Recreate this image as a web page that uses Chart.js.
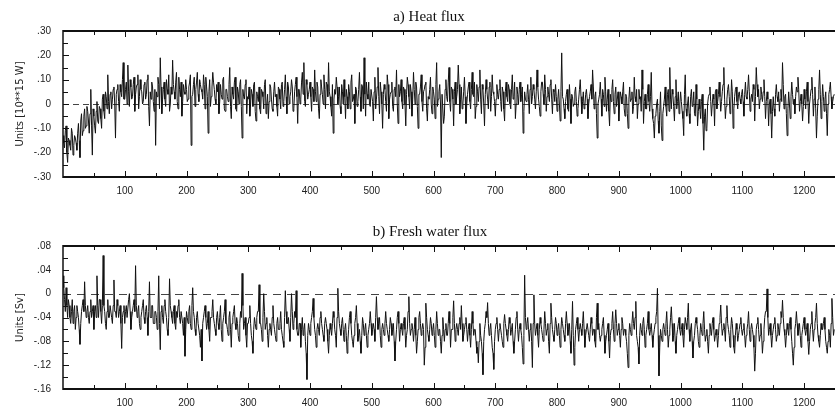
<!DOCTYPE html>
<html><head><meta charset="utf-8">
<script src="https://cdn.jsdelivr.net/npm/chart.js@4.4.1/dist/chart.umd.min.js"></script>
<style>
html,body{margin:0;padding:0;background:#fff;}
#wrap{position:relative;width:835px;height:410px;overflow:hidden;background:#fff;}
canvas{position:absolute;left:0;}
#c1{top:0;}
#c2{top:205px;}
</style></head><body>
<div id="wrap"><canvas id="c1" width="835" height="205"></canvas><canvas id="c2" width="835" height="205"></canvas></div>
<script>
// ---- data ----
// "A" arrays: model years 0, 2.5, 5, ... ; "B" arrays: years 1.25, 3.75, 6.25, ...
const YEAR_STEP = 2.5;
const xTickValues = [100,200,300,400,500,600,700,800,900,1000,1100,1200];
const xTickLabels = ['100','200','300','400','500','600','700','800','900','1000','1100','1200'];
const xMinorTicks = [50,150,250,350,450,550,650,750,850,950,1050,1150,1250];

const heatTicks = [.30,.20,.10,0,-.10,-.20,-.30];
const heatTickLabels = ['.30','.20','.10','0','-.10','-.20','-.30'];
const heatMinorTicks = [.25,.15,.05,-.05,-.15,-.25];

const freshTicks = [.08,.04,0,-.04,-.08,-.12,-.16];
const freshTickLabels = ['.08','.04','0','-.04','-.08','-.12','-.16'];
const freshMinorTicks = [.06,.02,-.02,-.06,-.10,-.14];

const heatFluxA = [
 -.13,-.18,-.09,-.24,-.15,-.19,-.12,-.17,-.14,-.19,-.08,-.22,-.04,-.11,-.02,-.09,-.03,-.12,.06,-.21,
 -.05,-.12,.01,-.08,-.02,-.10,.04,-.06,.03,.12,-.04,.05,.02,.07,-.14,.06,.01,.08,.03,.17,
 .02,.09,.16,-.01,.07,.03,.11,.04,.08,-.02,.10,.05,.01,.09,.04,.12,-.09,.02,.07,-.03,
 -.17,.03,.08,.19,-.04,.06,.02,.10,.04,-.03,.07,.18,.05,.09,.01,.11,.03,-.05,.08,.04,
 .06,.02,.09,-.17,.04,.11,.06,.13,.01,.08,.05,.12,-.02,.07,-.12,.10,.03,.13,.06,.00,
 .05,-.04,.08,.02,.11,-.03,.06,.01,.15,-.06,.04,.09,-.02,.07,.00,.10,-.14,.03,.08,-.04,
 .02,-.05,.06,-.01,.09,-.07,.03,.07,-.04,.05,-.02,.10,.00,-.06,.08,.02,-.03,.09,.04,-.05,
 .06,-.02,.09,.01,.12,-.04,.07,.03,.10,-.03,.05,.11,-.08,.06,.02,.13,.17,-.01,.08,.04,
 .09,-.03,.06,.14,.01,.07,-.06,.10,.04,.12,-.02,.08,.17,.03,-.05,-.12,.06,.11,.00,.07,
 -.04,.05,.10,-.06,.03,.08,-.02,.12,.02,-.08,.06,.01,.13,-.03,.07,.19,-.05,.04,.09,-.01,
 .06,-.07,.11,.02,.15,-.04,.05,-.10,.08,.01,.12,-.06,.04,.09,-.03,.07,.14,-.08,.03,.10,
 -.02,.06,-.09,.11,.03,.08,-.05,.13,.00,.07,-.10,.04,.12,-.03,.06,.09,-.07,.02,.11,-.04,
 .05,-.06,.17,.02,.08,-.22,.04,-.05,.10,.01,.15,-.03,.06,-.09,.09,.03,.16,-.04,.07,.00,
 .11,-.08,.04,.09,-.02,.13,.03,-.06,.08,.01,.14,-.04,.06,-.09,.10,.02,.07,-.03,.12,.04,
 -.05,.08,.02,.10,-.03,.05,-.07,.09,.01,.06,-.02,.12,.03,-.06,.07,.00,.09,.04,-.12,.05,
 .01,.08,-.04,.11,.03,.06,-.02,.14,.02,-.05,.09,.04,.12,-.03,.07,.01,.10,-.04,.05,.08,
 -.03,.06,-.07,.21,.02,-.06,.04,-.02,.08,-.08,.03,.00,.07,-.05,.02,.10,-.04,.05,-.01,.06,
 -.06,.03,.08,.14,-.02,.05,-.14,.02,.09,-.05,.04,.11,-.03,.06,-.09,.01,.10,-.04,.07,.02,
 -.07,.05,.00,.09,-.05,.03,-.10,.07,.02,-.04,.11,.01,-.06,.06,.03,.14,-.08,.04,-.02,.08,
 -.03,.13,-.06,-.14,-.04,.02,-.12,.05,-.15,-.01,.07,-.05,.06,.15,-.02,.04,-.07,.10,.01,-.04,
 .05,-.03,-.13,.12,-.05,.03,-.08,.06,.00,-.04,.08,-.09,.02,-.06,.04,-.19,-.02,-.10,.03,.07,
 -.05,.04,-.09,.06,.01,.09,-.03,.05,.15,-.06,.02,.08,-.04,.10,-.10,.03,.07,-.02,.05,.00,
 .06,-.05,.09,.02,.12,-.03,.04,.08,-.07,.15,.03,-.02,.07,.01,.10,-.06,.05,-.09,.02,-.14,
 .03,-.05,.08,.01,-.03,.06,.17,-.02,.04,-.13,.05,-.06,.09,.00,-.04,.07,.11,-.03,.04,-.07,
 .06,-.02,.09,-.08,.03,.11,-.05,.07,-.14,.02,.14,-.06,.08,-.03,.05,-.13,.04,.09,-.02,.03
];
const heatFluxB = [
 -.16,-.11,-.20,-.14,-.17,-.10,-.21,-.13,-.16,-.12,-.15,-.07,-.13,-.05,-.10,-.01,-.07,-.04,-.09,-.02,
 -.09,-.03,-.07,-.01,-.06,.02,-.03,.05,-.02,.01,.04,-.02,.06,.00,.04,.08,-.03,.05,.10,.02,
 .06,.00,.05,.10,.02,.08,-.03,.07,.12,.03,.06,.00,.08,.02,.10,-.01,.05,.09,.01,.06,
 .05,.11,-.02,.07,.02,.09,-.01,.06,.12,.00,.04,.08,.02,.13,-.02,.06,.09,.01,.05,.10,
 .01,.07,.12,.03,.08,-.01,.09,.04,.10,.06,.02,.08,.11,.03,.05,-.01,.07,.09,.02,.08,
 .09,.01,.04,.10,-.02,.06,.03,.08,-.01,.07,.02,.11,-.03,.05,.08,-.01,.06,.02,.10,.03,
 .07,.00,.04,.08,-.03,.05,.01,-.02,.06,.03,.08,-.04,.04,.01,.07,-.02,.05,.03,-.01,.07,
 .02,.08,-.01,.06,.03,.09,.00,.05,.07,-.02,.08,.03,.06,.00,.09,.04,.01,.10,.02,.06,
 .03,.07,.01,.05,.09,-.02,.04,.07,.00,.06,.09,.03,.05,-.01,.08,.02,.04,.07,.03,-.01,
 .08,.00,.03,.06,-.02,.05,.09,.01,.04,.07,-.01,.06,.03,.08,-.02,.04,.09,.02,.00,.06,
 .01,.05,-.02,.07,.03,.09,.00,.04,.06,-.03,.08,.02,.05,-.01,.06,.03,.00,.08,.05,.01,
 .07,.00,.04,.08,-.02,.05,.02,.06,.09,-.01,.04,.07,.01,.05,.08,-.02,.03,.06,.00,.07,
 .02,.08,-.01,.05,.00,.04,-.08,.06,.03,.09,.01,.07,.02,.05,.00,.06,.08,.02,-.02,.05,
 .03,.00,.07,.01,.06,.04,.09,-.01,.05,.07,.02,.08,.00,.04,.06,-.02,.09,.03,.05,.01,
 .02,.04,.06,.01,.07,-.02,.05,.03,.08,.00,.06,.02,.09,.00,.04,.06,.01,.07,-.03,.02,
 .04,.02,.06,.00,.08,.02,.05,.07,-.01,.05,.09,.00,.06,.03,.04,.08,.02,.06,.01,.03,
 .02,.00,.05,.03,-.02,.01,.06,-.03,.02,.04,-.01,.05,.01,-.02,.06,.03,.01,-.02,.04,.02,
 .00,.05,.02,.07,.03,-.04,.00,.04,.02,.06,-.01,.05,.02,-.03,.04,.06,.01,.04,-.01,.05,
 .00,.03,.05,-.02,.04,-.04,.02,.01,.05,-.01,.03,.06,.00,.02,-.03,.06,.01,-.02,.04,.01,
 .03,-.02,-.08,-.05,.00,-.07,-.03,-.09,-.04,.02,-.01,.04,-.03,.02,.06,-.01,.03,-.02,.05,.00,
 .01,-.06,.04,-.02,.00,-.04,.03,-.01,.05,-.05,.02,-.03,-.02,.01,-.08,-.05,-.11,.00,.04,.01,
 .00,.02,.05,-.02,.04,.03,.01,.08,.02,-.01,.06,.03,.00,.05,-.02,.06,.01,.04,.02,.04,
 .01,.04,.03,.06,.05,.02,.01,.06,.03,.08,.06,.02,.04,.05,.03,.01,.02,.00,-.04,-.03,
 -.02,.04,.03,.05,.02,.01,.08,.03,-.04,-.02,.00,.03,.04,.02,.03,.05,.06,.01,.00,-.01,
 .02,.05,.01,.00,.06,.04,.02,-.02,-.05,.06,.04,.01,.03,.02,-.04,.00,.06,.03,.01,.04
];

const freshWaterFluxA = [
 .03,-.01,.01,-.04,-.02,-.05,-.01,-.03,-.06,-.02,-.04,-.085,-.03,-.01,.02,-.04,-.02,-.05,-.01,-.03,
 -.06,-.02,.03,-.04,-.01,-.05,.064,-.03,-.06,-.01,-.04,-.02,-.05,.023,-.03,-.01,-.04,-.02,-.092,-.03,
 -.05,-.02,-.04,.00,-.06,-.03,-.01,.047,-.04,-.02,-.06,-.03,-.01,-.05,-.02,-.07,.02,-.04,-.02,-.05,
 -.03,-.06,.03,-.094,-.02,-.05,-.01,-.04,-.07,.025,-.03,-.05,-.02,-.06,-.04,-.01,-.05,-.03,-.07,-.105,
 -.03,-.05,-.02,-.06,.01,-.04,-.07,-.03,-.05,-.09,-.113,-.04,-.02,-.06,-.03,-.08,-.04,-.01,-.05,-.07,
 -.03,-.06,-.02,-.08,-.04,-.01,-.05,-.07,-.03,-.09,-.04,-.02,-.06,-.05,-.08,-.03,.034,-.06,-.04,-.09,
 -.05,-.02,-.07,-.10,-.04,-.06,-.03,.015,-.05,-.08,.00,-.06,-.04,-.09,-.05,-.07,-.02,-.06,-.08,-.04,
 -.06,-.03,-.07,-.09,.005,-.05,-.04,-.08,.00,-.06,-.03,.005,-.07,-.05,-.09,-.04,-.06,-.08,-.144,-.05,
 -.07,-.04,-.008,-.06,-.09,-.05,-.07,-.03,-.06,-.08,-.04,-.06,-.10,-.05,-.07,-.03,-.06,-.09,.009,-.05,
 -.07,-.04,-.08,-.05,-.10,-.06,-.03,-.07,-.09,-.05,-.02,-.08,-.06,-.10,-.04,-.07,-.05,-.09,-.06,-.03,
 -.07,-.05,-.08,-.005,-.06,-.04,-.09,-.05,-.07,-.03,-.06,-.08,-.04,-.07,-.05,-.113,-.06,-.03,-.08,-.05,
 -.07,-.04,-.09,-.06,-.005,-.07,-.05,-.08,-.04,-.10,-.06,-.03,-.07,-.05,-.12,-.016,-.06,-.08,-.04,-.07,
 -.05,-.09,-.03,-.07,-.06,-.10,-.04,-.08,-.05,-.07,-.03,-.09,-.06,-.012,-.08,-.05,-.07,-.04,-.02,-.08,
 -.06,-.04,-.08,-.05,-.09,-.03,-.07,-.06,-.10,-.116,-.05,-.08,-.136,-.06,-.03,-.015,-.07,-.05,-.09,-.127,
 -.06,-.04,-.08,-.05,-.07,-.09,-.035,-.06,-.08,-.04,-.07,-.05,-.10,-.06,-.03,-.08,-.05,-.07,-.118,.031,
 -.06,-.04,-.08,-.05,-.124,-.002,-.07,-.05,-.09,-.04,-.06,-.08,-.03,-.07,-.05,-.10,-.016,-.06,-.08,-.04,
 -.07,-.05,-.09,-.04,-.06,-.08,-.03,-.07,-.05,-.10,-.013,-.12,-.06,-.04,-.08,-.05,-.07,-.03,-.09,-.06,
 -.05,-.08,-.04,-.07,-.06,-.09,-.016,-.05,-.08,-.06,-.04,-.10,-.07,-.05,-.108,-.06,-.03,-.08,-.027,-.07,
 -.05,-.09,-.04,-.07,-.06,-.08,-.124,-.05,-.07,-.03,-.06,-.013,-.08,-.118,-.05,-.07,-.04,-.09,-.06,-.03,
 -.07,-.05,-.09,-.06,-.04,.009,-.138,-.06,-.08,-.05,-.07,-.03,-.09,-.06,-.022,-.08,-.05,-.10,-.06,-.04,
 -.07,-.05,-.09,-.04,-.06,-.016,-.08,-.05,-.108,-.07,-.04,-.06,-.09,-.05,-.07,-.03,-.08,-.06,-.10,-.05,
 -.07,-.04,-.08,-.06,-.09,-.05,-.019,-.07,-.05,-.08,-.02,-.06,-.09,-.04,-.07,-.10,-.05,-.08,-.06,-.04,
 -.07,-.05,-.09,-.06,-.03,-.08,-.05,-.07,-.13,-.06,-.04,-.08,-.05,-.10,-.06,-.03,.008,-.07,-.05,-.09,
 -.06,-.04,-.08,-.05,-.07,-.03,-.011,-.06,-.09,-.05,-.07,-.04,-.08,-.12,-.06,-.03,-.07,-.05,-.09,-.06,
 -.04,-.07,-.05,-.102,-.06,-.03,-.08,-.05,-.016,-.07,-.09,-.05,-.06,-.04,-.08,-.10,-.06,-.09,-.008,-.07
];
const freshWaterFluxB = [
 .01,-.03,-.02,-.01,-.04,-.03,-.05,-.02,-.04,-.03,-.06,-.05,-.02,-.03,-.02,-.03,-.04,-.03,-.04,-.02,
 -.03,-.04,-.02,-.01,-.03,-.02,-.02,-.05,-.03,-.04,-.02,-.04,-.02,-.03,-.04,-.02,-.03,-.05,-.04,-.02,
 -.03,-.04,-.01,-.03,-.04,-.02,-.03,-.02,-.03,-.05,-.04,-.02,-.04,-.03,-.04,-.03,-.04,-.02,-.05,-.03,
 -.04,-.03,-.05,-.03,-.04,-.02,-.03,-.06,-.04,-.02,-.04,-.03,-.05,-.03,-.02,-.04,-.03,-.05,-.04,-.06,
 -.04,-.03,-.05,-.02,-.03,-.06,-.04,-.05,-.07,-.06,-.05,-.03,-.04,-.05,-.06,-.04,-.03,-.04,-.06,-.04,
 -.05,-.04,-.06,-.05,-.03,-.05,-.06,-.04,-.06,-.05,-.03,-.05,-.04,-.07,-.05,-.04,-.02,-.05,-.07,-.05,
 -.04,-.05,-.08,-.06,-.05,-.04,-.03,-.05,-.06,-.04,-.03,-.05,-.07,-.06,-.06,-.04,-.05,-.07,-.05,-.06,
 -.05,-.06,-.08,-.04,-.03,-.05,-.06,-.04,-.03,-.05,-.04,-.06,-.07,-.05,-.06,-.07,-.05,-.10,-.07,-.06,
 -.05,-.03,-.04,-.07,-.06,-.06,-.04,-.05,-.07,-.05,-.05,-.08,-.07,-.06,-.05,-.04,-.07,-.04,-.03,-.06,
 -.05,-.06,-.06,-.07,-.08,-.04,-.05,-.08,-.07,-.04,-.05,-.07,-.08,-.07,-.05,-.06,-.07,-.07,-.05,-.05,
 -.06,-.06,-.04,-.04,-.05,-.07,-.06,-.06,-.05,-.05,-.07,-.06,-.05,-.06,-.08,-.08,-.04,-.05,-.06,-.06,
 -.05,-.06,-.07,-.03,-.05,-.06,-.06,-.06,-.07,-.08,-.04,-.05,-.06,-.06,-.09,-.04,-.07,-.06,-.05,-.06,
 -.07,-.06,-.05,-.06,-.08,-.07,-.06,-.06,-.07,-.05,-.05,-.06,-.04,-.05,-.06,-.06,-.05,-.06,-.05,-.07,
 -.05,-.06,-.06,-.07,-.06,-.05,-.06,-.08,-.09,-.08,-.07,-.10,-.08,-.05,-.04,-.05,-.06,-.07,-.10,-.08,
 -.05,-.06,-.06,-.06,-.08,-.05,-.05,-.07,-.06,-.05,-.06,-.08,-.08,-.04,-.06,-.06,-.06,-.09,-.07,-.04,
 -.05,-.06,-.06,-.08,-.05,-.05,-.06,-.07,-.06,-.05,-.07,-.06,-.05,-.06,-.08,-.05,-.04,-.07,-.06,-.05,
 -.06,-.07,-.06,-.05,-.07,-.05,-.05,-.06,-.08,-.06,-.07,-.09,-.05,-.06,-.06,-.06,-.05,-.06,-.07,-.05,
 -.07,-.06,-.05,-.06,-.08,-.04,-.06,-.07,-.07,-.05,-.07,-.08,-.06,-.08,-.07,-.05,-.06,-.05,-.05,-.06,
 -.07,-.06,-.05,-.06,-.07,-.10,-.07,-.06,-.05,-.05,-.04,-.07,-.09,-.07,-.06,-.05,-.06,-.07,-.05,-.06,
 -.06,-.07,-.07,-.05,-.03,-.07,-.09,-.07,-.06,-.06,-.05,-.06,-.07,-.04,-.05,-.07,-.08,-.07,-.05,-.06,
 -.06,-.07,-.06,-.05,-.04,-.06,-.06,-.08,-.08,-.05,-.05,-.08,-.07,-.06,-.05,-.06,-.07,-.08,-.07,-.06,
 -.05,-.06,-.07,-.07,-.07,-.04,-.05,-.06,-.06,-.04,-.05,-.07,-.06,-.05,-.09,-.07,-.06,-.07,-.05,-.06,
 -.06,-.07,-.07,-.05,-.06,-.06,-.06,-.09,-.10,-.05,-.06,-.07,-.07,-.08,-.04,-.03,-.04,-.06,-.07,-.07,
 -.05,-.06,-.07,-.06,-.05,-.04,-.04,-.07,-.07,-.06,-.05,-.06,-.10,-.09,-.05,-.05,-.06,-.07,-.07,-.05,
 -.06,-.06,-.08,-.08,-.05,-.06,-.06,-.04,-.05,-.08,-.07,-.06,-.05,-.06,-.09,-.08,-.07,-.05,-.04,-.06
];

// ---- drawing helpers ----
const TICK_FONT = {family: "'Liberation Sans', 'DejaVu Sans', sans-serif", size: 10};
const AXIS_TITLE_FONT = {family: "'DejaVu Sans', sans-serif", size: 10};

const framePlugin = {
  id: 'panelFrame',
  beforeDatasetsDraw(chart, args, o) {
    const {ctx, chartArea: a, scales: {y}} = chart;
    ctx.save();
    ctx.strokeStyle = '#444';
    ctx.lineWidth = 1;
    ctx.setLineDash(o.dash);
    const y0 = Math.round(y.getPixelForValue(0)) + 0.5;
    ctx.beginPath(); ctx.moveTo(a.left, y0); ctx.lineTo(a.right, y0); ctx.stroke();
    ctx.restore();
  },
  afterDraw(chart, args, o) {
    const {ctx, chartArea: a, scales: {x, y}} = chart;
    ctx.save();
    ctx.strokeStyle = '#111';
    ctx.lineWidth = 2;
    ctx.beginPath();
    ctx.moveTo(a.left, a.top); ctx.lineTo(a.right, a.top);
    ctx.moveTo(a.left, a.bottom); ctx.lineTo(a.right, a.bottom);
    ctx.stroke();
    ctx.lineWidth = 1.5;
    ctx.beginPath(); ctx.moveTo(a.left, a.top - 1); ctx.lineTo(a.left, a.bottom + 1); ctx.stroke();
    ctx.lineWidth = 1;
    const xt = (vals, len) => vals.forEach(v => {
      const px = Math.round(x.getPixelForValue(v)) + 0.5;
      ctx.beginPath();
      ctx.moveTo(px, a.bottom); ctx.lineTo(px, a.bottom - len);
      ctx.moveTo(px, a.top); ctx.lineTo(px, a.top + len);
      ctx.stroke();
    });
    xt(xTickValues, 6); xt(xMinorTicks, 4);
    const yt = (vals, len) => vals.forEach(v => {
      const py = Math.round(y.getPixelForValue(v)) + 0.5;
      ctx.beginPath(); ctx.moveTo(a.left, py); ctx.lineTo(a.left + len, py); ctx.stroke();
    });
    yt(o.yMajor, 6); yt(o.yMinor, 5);
    ctx.fillStyle = '#111';
    ctx.font = "15px 'Liberation Serif', 'DejaVu Serif', serif";
    ctx.textAlign = 'center';
    ctx.textBaseline = 'middle';
    ctx.fillText(o.title, o.titleX, o.titleY);
    ctx.restore();
  }
};

function interleave(a, b) {
  const pts = [];
  a.forEach((v, i) => {
    pts.push({x: i * YEAR_STEP, y: v});
    if (i < b.length) pts.push({x: i * YEAR_STEP + YEAR_STEP / 2, y: b[i]});
  });
  return pts;
}

function makePanel(id, cfg) {
  const pts = interleave(cfg.valuesA, cfg.valuesB);
  return new Chart(document.getElementById(id), {
    type: 'line',
    data: {datasets: [{data: pts, borderColor: '#111', borderWidth: 1, pointRadius: 0, tension: 0, fill: false}]},
    options: {
      responsive: false, animation: false, parsing: false, normalized: true, events: [],
      layout: {padding: {top: cfg.padTop, right: 0, bottom: 0, left: 0}},
      plugins: {
        legend: {display: false}, tooltip: {enabled: false},
        panelFrame: {dash: cfg.dash, yMajor: cfg.yTicks, yMinor: cfg.yMinor, title: cfg.title, titleX: cfg.titleX, titleY: cfg.titleY}
      },
      scales: {
        x: {
          type: 'linear', min: 0, max: 1250,
          afterBuildTicks: s => { s.ticks = xTickValues.map(v => ({value: v})); },
          afterFit: s => { s.height = cfg.xHeight; },
          grid: {display: false, drawTicks: false}, border: {display: false},
          ticks: {padding: 8, font: TICK_FONT, color: '#222', maxRotation: 0, autoSkip: false,
                  callback: (v, i) => xTickLabels[i]}
        },
        y: {
          type: 'linear', min: cfg.yMin, max: cfg.yMax,
          afterBuildTicks: s => { s.ticks = cfg.yTicks.map(v => ({value: v})); },
          afterFit: s => { s.width = 63; },
          grid: {display: false, drawTicks: false}, border: {display: false},
          ticks: {padding: 12, font: TICK_FONT, color: '#222', autoSkip: false,
                  callback: (v, i) => cfg.yLabels[i]},
          title: {display: true, text: cfg.yTitle, font: AXIS_TITLE_FONT, color: '#222', padding: {top: 14, bottom: 0}}
        }
      }
    },
    plugins: [framePlugin]
  });
}

makePanel('c1', {
  valuesA: heatFluxA, valuesB: heatFluxB, yMin: -.30, yMax: .30, yTicks: heatTicks, yLabels: heatTickLabels, yMinor: heatMinorTicks,
  yTitle: 'Units [10**15 W]', title: 'a) Heat flux', titleX: 429, titleY: 17,
  padTop: 31, xHeight: 28, dash: [6, 4]
});
makePanel('c2', {
  valuesA: freshWaterFluxA, valuesB: freshWaterFluxB, yMin: -.16, yMax: .08, yTicks: freshTicks, yLabels: freshTickLabels, yMinor: freshMinorTicks,
  yTitle: 'Units [Sv]', title: 'b) Fresh water flux', titleX: 430, titleY: 27,
  padTop: 41, xHeight: 21, dash: [8, 6]
});
</script>
</body></html>
